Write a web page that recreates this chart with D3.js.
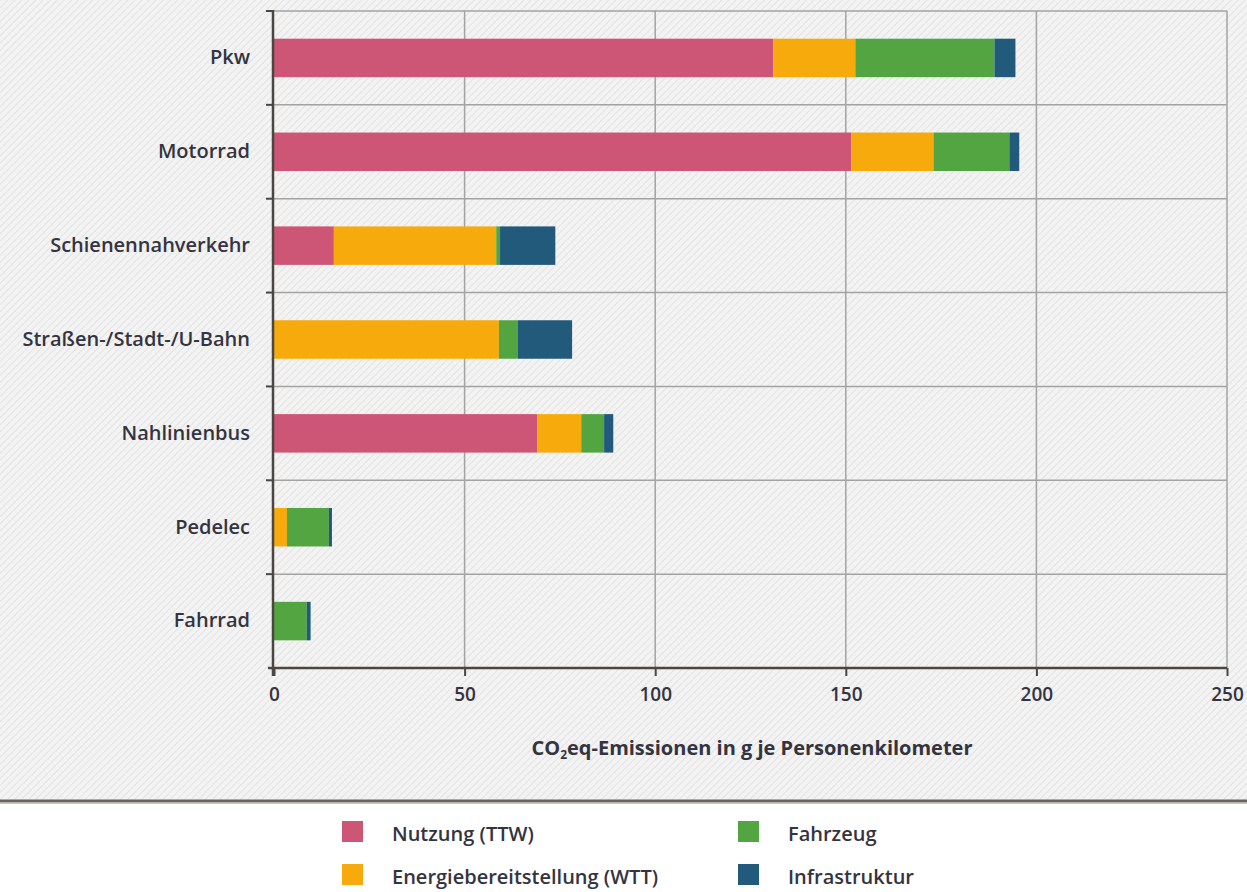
<!DOCTYPE html>
<html>
<head>
<meta charset="utf-8">
<script src="https://cdn.jsdelivr.net/npm/d3@7"></script>
<style>
  body { margin: 0; background: #fff; }
  svg { display: block; }
  text { font-family: "Open Sans", "Noto Sans", sans-serif; fill: #34343f; }
</style>
</head>
<body>
<svg id="chart" width="1247" height="892"></svg>
<script>
// data (g CO2eq per passenger km)
var categories = ["Pkw", "Motorrad", "Schienennahverkehr", "Straßen-/Stadt-/U-Bahn", "Nahlinienbus", "Pedelec", "Fahrrad"];
var seriesNames = ["Nutzung (TTW)", "Energiebereitstellung (WTT)", "Fahrzeug", "Infrastruktur"];
var nutzung = [131, 151.4, 15.7, 0, 69, 0, 0];
var energie = [21.5, 21.6, 42.6, 59, 11.6, 3.4, 0];
var fahrzeug = [36.5, 19.9, 1, 5, 6, 11, 8.6];
var infrastruktur = [5.5, 2.6, 14.5, 14.2, 2.4, 0.8, 1];
var xTicks = [0, 50, 100, 150, 200, 250];
var colors = ["#cd5576", "#f7aa0b", "#53a541", "#215a7a"];

var svg = d3.select("#chart");

// hatched background
var defs = svg.append("defs");
var pat = defs.append("pattern")
    .attr("id", "hatch")
    .attr("patternUnits", "userSpaceOnUse")
    .attr("width", 5)
    .attr("height", 5)
    .attr("patternTransform", "rotate(45)");
pat.append("rect").attr("width", 5).attr("height", 5).attr("fill", "#f3f3f3");
pat.append("line")
    .attr("x1", 0).attr("y1", 0).attr("x2", 0).attr("y2", 5)
    .attr("stroke", "#e3e3e3").attr("stroke-width", 2);

svg.append("rect")
    .attr("x", 0).attr("y", 0)
    .attr("width", 1247).attr("height", 801)
    .attr("fill", "url(#hatch)");

svg.append("line")
    .attr("x1", 0).attr("x2", 1247).attr("y1", 801).attr("y2", 801)
    .attr("stroke", "#6a6560").attr("stroke-width", 3);
svg.append("line")
    .attr("x1", 0).attr("x2", 1247).attr("y1", 803.5).attr("y2", 803.5)
    .attr("stroke", "#c9c6c3").attr("stroke-width", 1);

var plotL = 274, plotR = 1227, plotT = 11, plotB = 668;

var x = d3.scaleLinear().domain([0, 250]).range([plotL, plotR]);
var y = d3.scaleBand().domain(categories).range([plotT, plotB]).padding(0);

// grid
var grid = svg.append("g");
grid.selectAll("line.v")
    .data(xTicks.slice(1))
    .enter().append("line")
    .attr("x1", function(d) { return x(d); })
    .attr("x2", function(d) { return x(d); })
    .attr("y1", plotT).attr("y2", plotB)
    .attr("stroke", "#a3a3a3").attr("stroke-width", 1.5);

grid.selectAll("line.h")
    .data(categories)
    .enter().append("line")
    .attr("x1", plotL).attr("x2", plotR)
    .attr("y1", function(d) { return y(d); })
    .attr("y2", function(d) { return y(d); })
    .attr("stroke", "#a3a3a3").attr("stroke-width", 1.5);

// left tick marks, darker
grid.selectAll("line.lt")
    .data(categories)
    .enter().append("line")
    .attr("x1", plotL - 8).attr("x2", plotL)
    .attr("y1", function(d) { return y(d); })
    .attr("y2", function(d) { return y(d); })
    .attr("stroke", "#4a4743").attr("stroke-width", 2);

// stacked bars
var rows = categories.map(function(c, i) {
    return {cat: c, s0: nutzung[i], s1: energie[i], s2: fahrzeug[i], s3: infrastruktur[i]};
});
var stack = d3.stack().keys(["s0", "s1", "s2", "s3"]);
var layers = stack(rows);

var barH = y.bandwidth() * 0.41;

svg.append("g")
    .selectAll("g")
    .data(layers)
    .enter().append("g")
    .attr("fill", function(d, i) { return colors[i]; })
    .selectAll("rect")
    .data(function(d) { return d; })
    .enter().append("rect")
    .attr("x", function(d) { return x(d[0]); })
    .attr("width", function(d) { return x(d[1]) - x(d[0]); })
    .attr("y", function(d) { return y(d.data.cat) + (y.bandwidth() - barH) / 2; })
    .attr("height", barH);

// axes
var xAxis = svg.append("g")
    .attr("transform", "translate(0," + plotB + ")")
    .call(d3.axisBottom(x).tickValues(xTicks).tickSize(8).tickPadding(12));
xAxis.select(".domain").attr("stroke", "#4a4743").attr("stroke-width", 2.5)
    .attr("d", "M" + (plotL - 6) + ",0H" + plotR);
xAxis.selectAll(".tick line").attr("stroke", "#4a4743").attr("stroke-width", 2);
xAxis.selectAll(".tick text")
    .style("font-family", "'Open Sans', sans-serif")
    .style("font-size", "19px")
    .style("font-weight", 600)
    .attr("fill", "#34343f");

var yAxis = svg.append("g")
    .attr("transform", "translate(" + plotL + ",0)")
    .call(d3.axisLeft(y).tickSize(0).tickPadding(24));
yAxis.select(".domain").remove();
yAxis.selectAll(".tick text")
    .style("font-family", "'Open Sans', sans-serif")
    .style("font-size", "20px")
    .style("font-weight", 600)
    .attr("fill", "#34343f");

svg.append("line")
    .attr("x1", plotL - 1).attr("x2", plotL - 1)
    .attr("y1", plotT - 1).attr("y2", plotB + 8)
    .attr("stroke", "#4a4743").attr("stroke-width", 2.5);

// axis title with subscript
var title = svg.append("text")
    .attr("x", 752).attr("y", 755)
    .attr("text-anchor", "middle")
    .style("font-size", "20px")
    .style("font-weight", 700);
title.append("tspan").text("CO");
title.append("tspan").text("2").attr("dy", 4).style("font-size", "12px");
title.append("tspan").text("eq-Emissionen in g je Personenkilometer").attr("dy", -4);

// legend
var legendPos = [[342, 821], [342, 864], [738, 821], [738, 864]];
var legend = svg.append("g")
    .selectAll("g")
    .data(seriesNames)
    .enter().append("g")
    .attr("transform", function(d, i) { return "translate(" + legendPos[i][0] + "," + legendPos[i][1] + ")"; });
legend.append("rect")
    .attr("width", 21).attr("height", 21)
    .attr("fill", function(d, i) { return colors[i]; });
legend.append("text")
    .attr("x", 50).attr("y", 20)
    .style("font-size", "20px")
    .style("font-weight", 600)
    .text(function(d) { return d; });
</script>
</body>
</html>
